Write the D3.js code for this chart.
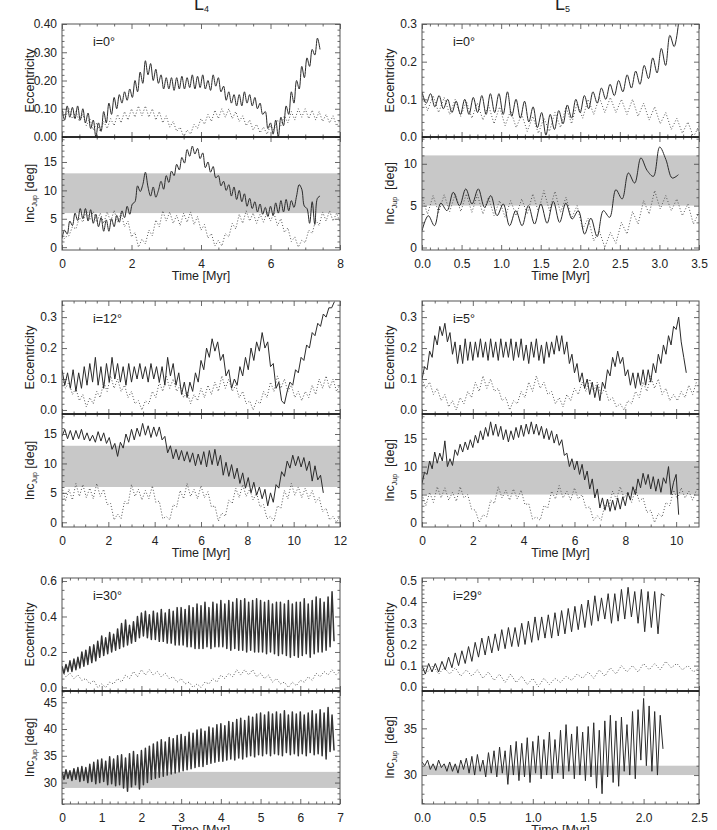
<!DOCTYPE html>
<html>
<head>
<meta charset="utf-8">
<script src="https://cdn.jsdelivr.net/npm/d3@7"></script>
<style>
body { margin: 0; background: #fff; }
svg text { font-family: "Liberation Sans", Arial, Helvetica, sans-serif; fill: #222; white-space: pre; }
</style>
</head>
<body>
<svg id="chart" width="717" height="830"></svg>
<script>
// ---- data (values at equal time steps over each span) ----

// L4, i=0
const l4i0EccSpan = [0, 7.425];
const l4i0Ecc = [0.10,0.06,0.11,0.07,0.105,0.065,0.11,0.06,0.10,0.05,
  0.085,0.03,0.06,0.0,0.05,0.02,0.09,0.05,0.12,0.08,
  0.14,0.10,0.15,0.12,0.16,0.13,0.17,0.14,0.20,0.16,
  0.23,0.19,0.27,0.22,0.26,0.20,0.24,0.19,0.22,0.17,
  0.21,0.17,0.21,0.165,0.21,0.17,0.215,0.17,0.21,0.175,
  0.22,0.17,0.215,0.175,0.22,0.17,0.20,0.165,0.22,0.18,
  0.21,0.16,0.18,0.13,0.16,0.12,0.15,0.11,0.15,0.11,
  0.16,0.12,0.15,0.11,0.14,0.10,0.12,0.08,0.09,0.03,
  0.05,0.01,0.06,0.0,0.07,0.04,0.11,0.08,0.16,0.12,
  0.20,0.17,0.25,0.21,0.28,0.25,0.31,0.29,0.35,0.31];
const l4i0EccJupSpan = [0, 8];
const l4i0EccJup = [0.10,0.07,0.10,0.065,0.09,0.055,0.08,0.04,0.065,0.025,
  0.05,0.02,0.055,0.03,0.065,0.04,0.08,0.05,0.09,0.06,
  0.10,0.07,0.11,0.075,0.11,0.07,0.10,0.06,0.09,0.05,
  0.075,0.035,0.055,0.02,0.035,0.0,0.025,0.01,0.045,0.03,
  0.065,0.045,0.08,0.055,0.095,0.065,0.10,0.07,0.10,0.065,
  0.09,0.055,0.075,0.04,0.06,0.025,0.045,0.015,0.035,0.01,
  0.04,0.025,0.06,0.04,0.075,0.05,0.09,0.06,0.10,0.07,
  0.10,0.065,0.095,0.06,0.09,0.055,0.08,0.05,0.075,0.04,
  0.06];
const l4i0IncSpan = [0, 7.425];
const l4i0Inc = [1.5,3.0,2.3,4.6,3.8,6.0,4.7,6.8,5.0,6.8,
  4.6,6.6,4.2,5.8,3.6,5.2,2.8,4.8,2.8,5.0,
  3.6,5.6,4.4,6.4,5.2,7.2,5.8,7.6,8.0,10.8,
  9.8,11.0,13.2,10.6,9.0,10.6,8.8,10.0,11.6,10.2,
  12.6,11.4,13.4,12.6,14.6,13.6,15.8,14.8,17.2,16.0,
  17.8,16.4,17.4,15.6,16.6,14.0,15.0,13.2,14.2,12.2,
  12.6,10.8,11.6,10.0,11.0,9.0,10.6,8.4,10.0,8.0,
  9.4,7.2,8.6,6.8,8.0,6.2,7.6,5.8,7.0,5.4,
  7.2,5.6,7.8,6.0,8.2,6.2,8.4,6.4,8.2,7.0,
  9.0,11.0,10.2,7.2,6.8,4.2,8.0,4.0,8.6,9.0];
const l4i0IncJupSpan = [0, 8];
const l4i0IncJup = [1.0,1.8,2.0,3.6,3.2,5.2,4.4,6.4,4.8,6.3,
  4.4,6.0,4.2,6.2,4.5,6.5,4.4,6.0,3.6,4.6,
  1.8,2.6,0.0,1.4,0.6,3.0,2.0,4.8,3.6,6.4,
  4.6,6.2,4.2,5.6,3.8,6.0,4.4,6.2,4.0,5.4,
  3.0,4.0,1.6,2.4,0.2,1.2,0.2,2.4,1.8,4.2,
  3.2,5.8,4.2,6.4,4.6,6.0,4.2,5.8,4.4,6.2,
  4.6,6.0,3.8,5.0,2.6,3.4,1.0,1.8,0.0,1.2,
  0.8,3.0,2.4,4.8,3.8,6.2,4.6,6.4,4.6,6.0,
  4.4];

// L5, i=0
const l5i0EccSpan = [0, 3.24];
const l5i0Ecc = [0.12,0.09,0.115,0.08,0.11,0.075,0.10,0.065,0.095,0.06,
  0.10,0.06,0.105,0.065,0.11,0.06,0.115,0.065,0.115,0.06,
  0.12,0.055,0.10,0.05,0.095,0.04,0.08,0.025,0.065,0.005,
  0.06,0.02,0.07,0.035,0.085,0.05,0.10,0.065,0.11,0.075,
  0.12,0.09,0.13,0.10,0.14,0.11,0.15,0.12,0.165,0.13,
  0.175,0.14,0.19,0.155,0.21,0.17,0.235,0.19,0.27,0.24,
  0.30];
const l5i0EccJupSpan = [0, 3.5];
const l5i0EccJup = [0.11,0.07,0.11,0.065,0.105,0.06,0.10,0.055,0.095,0.05,
  0.09,0.045,0.085,0.035,0.08,0.03,0.07,0.025,0.06,0.015,
  0.055,0.01,0.05,0.015,0.065,0.025,0.08,0.035,0.09,0.05,
  0.10,0.06,0.105,0.065,0.105,0.065,0.10,0.06,0.10,0.055,
  0.09,0.045,0.08,0.035,0.065,0.02,0.05,0.01,0.04,0.0,
  0.03];
const l5i0IncSpan = [0, 3.24];
const l5i0Inc = [2.0,3.8,2.6,5.3,4.4,6.6,5.0,7.0,5.2,7.0,
  4.8,6.2,3.8,5.2,2.6,4.4,2.6,5.0,2.8,5.2,
  2.9,5.5,3.0,5.3,3.4,4.4,1.6,3.5,1.3,4.4,
  3.6,6.9,5.8,8.9,7.7,10.7,9.2,8.5,12.0,10.5,
  8.3,8.7];
const l5i0IncJupSpan = [0, 3.5];
const l5i0IncJup = [6.0,4.0,6.2,4.2,6.3,4.3,6.4,4.3,6.4,4.2,
  6.3,4.0,6.0,3.8,5.6,3.6,5.6,3.8,5.8,4.0,
  6.4,4.3,6.8,4.4,6.7,4.2,6.0,3.5,5.0,2.2,
  3.5,0.8,2.0,0.0,1.8,0.5,3.0,1.6,4.3,2.8,
  5.6,4.0,6.8,4.6,6.2,4.4,5.8,3.8,5.2,2.8,
  4.2];

// L4, i=12
const l4i12EccSpan = [0, 11.76];
const l4i12Ecc = [0.13,0.08,0.12,0.07,0.13,0.06,0.12,0.07,0.14,0.08,
  0.15,0.09,0.17,0.08,0.14,0.07,0.15,0.09,0.17,0.10,
  0.15,0.09,0.14,0.08,0.15,0.09,0.14,0.10,0.15,0.10,
  0.14,0.09,0.15,0.10,0.14,0.09,0.14,0.08,0.17,0.11,
  0.15,0.08,0.12,0.05,0.09,0.04,0.09,0.06,0.12,0.09,
  0.16,0.13,0.20,0.17,0.23,0.19,0.22,0.16,0.18,0.11,
  0.13,0.07,0.10,0.08,0.14,0.11,0.17,0.13,0.20,0.16,
  0.22,0.19,0.25,0.20,0.22,0.14,0.15,0.07,0.09,0.03,
  0.02,0.06,0.09,0.08,0.13,0.12,0.17,0.16,0.21,0.20,
  0.25,0.24,0.28,0.27,0.31,0.30,0.33,0.33,0.35];
const l4i12EccJupSpan = [0, 12];
const l4i12EccJup = [0.10,0.07,0.09,0.05,0.07,0.03,0.05,0.01,0.04,0.02,
  0.06,0.04,0.09,0.06,0.11,0.07,0.10,0.06,0.08,0.04,
  0.06,0.02,0.03,0.0,0.03,0.02,0.06,0.04,0.09,0.06,
  0.11,0.07,0.10,0.06,0.08,0.04,0.06,0.02,0.05,0.03,
  0.07,0.04,0.08,0.05,0.09,0.06,0.11,0.07,0.10,0.06,
  0.08,0.04,0.06,0.02,0.03,0.0,0.03,0.02,0.06,0.04,
  0.09,0.06,0.11,0.07,0.10,0.06,0.08,0.04,0.06,0.03,
  0.06,0.04,0.08,0.05,0.10,0.07,0.11,0.07,0.10,0.06,
  0.08];
const l4i12IncSpan = [0, 11.28];
const l4i12Inc = [14.6,15.8,14.2,15.6,14.0,15.6,14.2,15.8,14.0,15.2,
  13.8,14.8,13.6,15.4,13.8,15.2,13.4,14.4,12.4,13.4,
  11.2,13.6,12.6,15.0,13.6,15.8,14.0,16.0,14.6,16.8,
  14.8,16.4,14.4,16.2,14.6,16.2,14.0,14.6,11.8,13.0,
  10.8,12.4,10.6,12.2,10.4,12.0,10.2,11.8,9.6,11.6,
  9.8,12.0,9.4,12.2,9.8,12.4,9.6,11.4,8.0,10.2,
  7.8,9.8,7.4,9.2,6.6,8.4,5.8,7.6,5.0,6.8,
  4.6,6.0,4.0,5.6,2.8,5.0,3.4,6.4,5.8,8.6,
  7.8,10.4,9.2,11.4,9.6,11.2,9.4,11.0,8.8,10.4,
  7.0,9.6,7.2,8.0,5.0];
const l4i12IncJupSpan = [0, 12];
const l4i12IncJup = [6.0,3.6,5.6,3.8,6.6,4.4,6.4,4.2,5.8,4.0,
  6.6,4.4,5.6,3.0,3.2,0.4,1.4,0.6,3.6,3.0,
  6.4,4.4,5.6,3.8,5.4,4.0,6.2,3.4,3.6,0.6,
  1.0,0.4,3.0,2.6,5.4,4.0,6.6,4.4,5.6,4.0,
  6.2,4.2,5.2,2.6,2.8,0.2,1.6,1.0,3.8,3.2,
  5.8,4.2,6.4,4.4,5.6,3.8,5.0,2.6,3.0,0.6,
  1.0,0.2,2.8,2.4,5.4,4.0,6.6,4.6,6.0,4.2,
  5.8,4.0,5.4,3.4,4.2,1.8,2.4,0.4,1.0,0.0,
  1.0];

// L5, i=5
const l5i5EccSpan = [0, 10.4];
const l5i5Ecc = [0.10,0.14,0.13,0.19,0.17,0.24,0.21,0.27,0.24,0.28,
  0.22,0.25,0.18,0.22,0.15,0.21,0.15,0.23,0.16,0.22,
  0.16,0.22,0.17,0.23,0.17,0.22,0.16,0.23,0.17,0.22,
  0.16,0.23,0.17,0.22,0.17,0.23,0.16,0.22,0.17,0.23,
  0.16,0.21,0.15,0.22,0.17,0.23,0.16,0.21,0.15,0.22,
  0.17,0.22,0.18,0.24,0.19,0.24,0.18,0.22,0.15,0.18,
  0.12,0.15,0.09,0.12,0.07,0.10,0.05,0.09,0.04,0.08,
  0.03,0.09,0.07,0.13,0.11,0.17,0.14,0.19,0.15,0.17,
  0.11,0.13,0.08,0.12,0.07,0.12,0.08,0.13,0.08,0.13,
  0.09,0.15,0.12,0.18,0.15,0.21,0.18,0.24,0.21,0.27,
  0.26,0.30,0.22,0.17,0.12];
const l5i5EccJupSpan = [0, 10.8];
const l5i5EccJup = [0.10,0.07,0.09,0.05,0.07,0.03,0.05,0.01,0.03,0.0,
  0.04,0.02,0.06,0.04,0.09,0.06,0.11,0.07,0.10,0.06,
  0.07,0.03,0.04,0.0,0.03,0.02,0.06,0.04,0.09,0.06,
  0.11,0.07,0.09,0.05,0.06,0.02,0.04,0.01,0.05,0.03,
  0.07,0.05,0.09,0.06,0.10,0.06,0.09,0.05,0.07,0.03,
  0.04,0.01,0.02,0.0,0.03,0.02,0.06,0.04,0.09,0.06,
  0.11,0.07,0.10,0.05,0.07,0.03,0.05,0.03,0.06,0.04,
  0.08,0.05,0.09];
const l5i5IncSpan = [0, 10.1];
const l5i5Inc = [7.0,9.0,8.6,11.0,9.6,12.6,10.6,12.4,11.0,14.6,
  10.0,11.4,10.2,13.0,12.0,14.0,12.6,14.4,13.0,14.8,
  13.4,15.6,14.2,16.4,14.8,17.0,15.4,18.0,15.6,17.6,
  15.4,17.2,14.8,16.6,14.4,16.4,14.8,17.0,15.2,17.4,
  15.4,17.6,15.8,18.0,15.8,17.6,15.6,17.2,15.0,16.8,
  14.8,16.4,14.2,15.8,13.8,14.8,12.0,12.4,10.0,11.4,
  9.4,11.0,8.6,10.4,7.6,9.2,6.0,7.8,4.4,6.0,
  2.6,4.4,2.2,4.2,2.0,4.0,2.2,4.4,2.4,4.6,
  3.0,5.4,4.0,6.4,5.0,7.8,6.2,8.8,6.8,8.6,
  6.0,8.2,5.6,7.8,5.4,8.0,7.0,10.0,5.0,7.2,
  8.6,1.4];
const l5i5IncJupSpan = [0, 10.8];
const l5i5IncJup = [5.0,3.0,5.4,3.6,6.4,4.4,6.2,4.0,5.4,3.8,
  6.4,4.4,5.0,2.4,2.2,0.0,1.4,1.0,4.0,3.4,
  6.4,4.4,5.8,4.0,6.0,4.2,5.8,3.2,3.4,0.6,
  1.0,0.4,3.0,2.6,5.6,4.2,6.6,4.4,5.6,4.0,
  6.2,4.2,5.0,2.6,2.8,0.4,1.2,0.4,3.2,2.8,
  5.6,4.2,6.4,4.4,5.4,3.6,6.0,3.8,4.4,1.8,
  2.2,0.0,1.6,1.0,3.6,3.0,5.8,4.2,6.2,4.4,
  5.6,4.0,5.8];

// L4, i=30
const l4i30EccSpan = [0, 6.85];
const l4i30Ecc = [0.12,0.08,0.13,0.09,0.15,0.09,0.16,0.10,0.17,0.11,
  0.20,0.12,0.21,0.13,0.23,0.14,0.24,0.15,0.26,0.17,
  0.29,0.18,0.28,0.19,0.31,0.20,0.30,0.21,0.33,0.22,
  0.36,0.23,0.38,0.24,0.35,0.25,0.37,0.26,0.40,0.28,
  0.42,0.29,0.43,0.28,0.41,0.27,0.43,0.27,0.42,0.26,
  0.44,0.26,0.42,0.25,0.44,0.25,0.43,0.24,0.45,0.24,
  0.45,0.24,0.44,0.23,0.46,0.23,0.45,0.22,0.47,0.22,
  0.46,0.22,0.48,0.23,0.45,0.22,0.48,0.23,0.47,0.23,
  0.49,0.23,0.47,0.22,0.49,0.21,0.48,0.22,0.50,0.21,
  0.49,0.21,0.50,0.20,0.48,0.21,0.49,0.20,0.50,0.20,
  0.49,0.20,0.48,0.19,0.49,0.20,0.47,0.19,0.48,0.18,
  0.48,0.19,0.47,0.18,0.49,0.17,0.47,0.18,0.48,0.17,
  0.48,0.18,0.50,0.19,0.47,0.17,0.49,0.19,0.51,0.20,
  0.50,0.20,0.48,0.21,0.51,0.23,0.54,0.26];
const l4i30EccJupSpan = [0, 7];
const l4i30EccJup = [0.09,0.06,0.08,0.05,0.07,0.04,0.05,0.02,0.04,0.0,
  0.02,0.0,0.03,0.02,0.05,0.03,0.07,0.05,0.09,0.06,
  0.10,0.07,0.10,0.07,0.09,0.06,0.08,0.05,0.06,0.03,
  0.05,0.02,0.03,0.0,0.02,0.0,0.03,0.02,0.05,0.03,
  0.07,0.05,0.08,0.06,0.10,0.07,0.10,0.07,0.10,0.06,
  0.08,0.05,0.07,0.03,0.05,0.02,0.03,0.0,0.03,0.01,
  0.04,0.03,0.06,0.04,0.08,0.06,0.09,0.07,0.10,0.07,
  0.09];
const l4i30IncSpan = [0, 6.85];
const l4i30Inc = [32.0,30.6,32.4,30.8,32.2,30.4,32.6,30.6,32.8,30.2,
  33.0,30.4,32.8,30.0,33.4,30.2,33.8,29.8,34.2,30.0,
  34.4,30.2,34.0,29.6,34.8,29.8,34.4,29.4,35.0,29.6,
  35.2,29.0,34.6,28.4,35.4,29.2,35.8,29.6,35.2,28.8,
  36.0,29.6,36.4,30.0,36.8,30.6,37.2,30.8,37.6,31.0,
  38.0,31.2,37.6,31.4,38.4,31.6,38.2,31.8,38.8,32.0,
  39.0,32.2,38.6,32.4,39.4,32.6,39.2,32.8,39.8,33.0,
  40.0,33.0,39.6,33.4,40.4,33.6,40.2,33.8,40.8,34.0,
  41.0,34.0,40.6,34.2,41.4,34.4,41.2,34.2,41.8,34.6,
  42.0,34.4,41.6,34.8,42.4,35.0,42.2,34.8,42.8,35.2,
  43.0,35.0,42.6,35.4,43.2,35.0,42.8,35.4,43.2,35.2,
  42.8,35.0,43.4,35.6,42.6,35.2,43.2,35.4,42.8,35.0,
  43.2,35.4,42.6,35.0,43.0,35.6,43.4,35.2,42.8,35.4,
  43.6,35.0,43.0,34.4,44.0,35.8,42.6,36.0];

// L5, i=29
const l5i29EccSpan = [0, 2.19];
const l5i29Ecc = [0.10,0.06,0.11,0.07,0.11,0.07,0.12,0.08,0.14,0.09,
  0.16,0.10,0.17,0.11,0.19,0.12,0.21,0.14,0.23,0.15,
  0.24,0.16,0.25,0.17,0.27,0.18,0.28,0.19,0.28,0.19,
  0.30,0.20,0.31,0.21,0.33,0.22,0.33,0.23,0.34,0.23,
  0.35,0.24,0.36,0.25,0.37,0.26,0.38,0.27,0.39,0.28,
  0.41,0.29,0.43,0.31,0.42,0.32,0.44,0.30,0.44,0.31,
  0.46,0.32,0.47,0.33,0.45,0.30,0.46,0.26,0.45,0.28,
  0.45,0.25,0.44,0.43];
const l5i29EccJupSpan = [0, 2.5];
const l5i29EccJup = [0.10,0.07,0.10,0.06,0.09,0.06,0.09,0.05,0.08,0.05,
  0.08,0.04,0.07,0.03,0.06,0.02,0.06,0.02,0.05,0.01,
  0.04,0.0,0.04,0.01,0.04,0.02,0.05,0.03,0.06,0.04,
  0.07,0.04,0.08,0.05,0.09,0.06,0.10,0.07,0.10,0.07,
  0.11,0.08,0.11,0.08,0.12,0.09,0.11,0.08,0.10,0.07,
  0.09];
const l5i29IncSpan = [0, 2.175];
const l5i29Inc = [31.4,31.0,31.6,30.6,31.2,30.5,31.6,30.8,31.2,30.4,
  31.4,30.4,31.2,30.2,31.6,30.6,31.8,30.2,32.0,30.0,
  32.2,30.4,31.6,29.8,32.4,30.2,32.6,29.8,33.0,30.2,
  32.6,29.0,33.2,30.0,33.6,29.4,33.4,29.8,34.0,29.2,
  33.6,30.2,34.2,29.6,33.8,30.0,34.6,29.6,33.8,30.2,
  34.8,29.6,35.4,30.4,34.4,29.6,35.2,30.0,34.6,29.4,
  35.2,29.8,35.6,28.6,34.8,28.0,35.8,29.8,36.4,29.2,
  35.8,28.8,36.2,30.4,35.4,30.0,36.8,29.6,37.0,31.6,
  38.2,31.0,37.4,30.4,36.8,30.0,36.4,32.8];

// shaded inclination ranges
const bandL4 = [6, 13];
const bandL5 = [5, 11];
const bandL4i30 = [29, 32];
const bandL5i29 = [30, 31];

// tick values
const timeTicksL4i0 = [0, 2, 4, 6, 8];
const timeTicksL5i0 = [0, 0.5, 1, 1.5, 2, 2.5, 3, 3.5];
const timeTicksL4i12 = [0, 2, 4, 6, 8, 10, 12];
const timeTicksL5i5 = [0, 2, 4, 6, 8, 10];
const timeTicksL4i30 = [0, 1, 2, 3, 4, 5, 6, 7];
const timeTicksL5i29 = [0, 0.5, 1, 1.5, 2, 2.5];
const eccTicksL4i0 = [0, 0.1, 0.2, 0.3, 0.4];
const eccTicks03 = [0, 0.1, 0.2, 0.3];
const eccTicksL4i30 = [0, 0.2, 0.4, 0.6];
const eccTicksL5i29 = [0, 0.1, 0.2, 0.3, 0.4, 0.5];
const incTicksL5i0 = [0, 5, 10];
const incTicks15 = [0, 5, 10, 15];
const incTicksL4i30 = [30, 35, 40, 45];
const incTicksL5i29 = [30, 35];

// ---- layout ----
const width = 717;
const height = 830;
const colX = [[62, 340], [422, 699]];
const rowTop = [24, 301, 578];
const subH = 113;

const svg = d3.select("#chart");

const rows = [
  { col: 0, row: 0, label: "i=0°", xDomain: [0, 8], xTicks: timeTicksL4i0, xMinor: 4, xFmt: "d", smooth: true,
    ecc: { yDomain: [0, 0.4], ticks: eccTicksL4i0, minor: 5, fmt: ".2f", span: l4i0EccSpan, vals: l4i0Ecc, jupSpan: l4i0EccJupSpan, jup: l4i0EccJup },
    inc: { yDomain: [-0.5, 19.4], ticks: incTicks15, minor: 5, band: bandL4, span: l4i0IncSpan, vals: l4i0Inc, jupSpan: l4i0IncJupSpan, jup: l4i0IncJup } },
  { col: 1, row: 0, label: "i=0°", xDomain: [0, 3.5], xTicks: timeTicksL5i0, xMinor: 5, xFmt: ".1f", smooth: true, wide: true,
    ecc: { yDomain: [0, 0.3], ticks: eccTicks03, minor: 5, fmt: ".1f", span: l5i0EccSpan, vals: l5i0Ecc, jupSpan: l5i0EccJupSpan, jup: l5i0EccJup },
    inc: { yDomain: [-0.3, 13.2], ticks: incTicksL5i0, minor: 5, band: bandL5, span: l5i0IncSpan, vals: l5i0Inc, jupSpan: l5i0IncJupSpan, jup: l5i0IncJup } },
  { col: 0, row: 1, label: "i=12°", xDomain: [0, 12], xTicks: timeTicksL4i12, xMinor: 4, xFmt: "d",
    ecc: { yDomain: [-0.013, 0.352], ticks: eccTicks03, minor: 5, fmt: ".1f", span: l4i12EccSpan, vals: l4i12Ecc, jupSpan: l4i12EccJupSpan, jup: l4i12EccJup },
    inc: { yDomain: [-0.8, 18.4], ticks: incTicks15, minor: 5, band: bandL4, span: l4i12IncSpan, vals: l4i12Inc, jupSpan: l4i12IncJupSpan, jup: l4i12IncJup } },
  { col: 1, row: 1, label: "i=5°", xDomain: [0, 10.9], xTicks: timeTicksL5i5, xMinor: 4, xFmt: "d", wide: true,
    ecc: { yDomain: [-0.013, 0.352], ticks: eccTicks03, minor: 5, fmt: ".1f", span: l5i5EccSpan, vals: l5i5Ecc, jupSpan: l5i5EccJupSpan, jup: l5i5EccJup },
    inc: { yDomain: [-0.8, 19.4], ticks: incTicks15, minor: 5, band: bandL5, span: l5i5IncSpan, vals: l5i5Inc, jupSpan: l5i5IncJupSpan, jup: l5i5IncJup } },
  { col: 0, row: 2, label: "i=30°", xDomain: [0, 7], xTicks: timeTicksL4i30, xMinor: 5, xFmt: "d", dense: true,
    ecc: { yDomain: [-0.02, 0.617], ticks: eccTicksL4i30, minor: 4, fmt: ".1f", span: l4i30EccSpan, vals: l4i30Ecc, jupSpan: l4i30EccJupSpan, jup: l4i30EccJup },
    inc: { yDomain: [26, 47.1], ticks: incTicksL4i30, minor: 5, band: bandL4i30, span: l4i30IncSpan, vals: l4i30Inc } },
  { col: 1, row: 2, label: "i=29°", xDomain: [0, 2.5], xTicks: timeTicksL5i29, xMinor: 5, xFmt: ".1f", wide: true,
    ecc: { yDomain: [-0.02, 0.514], ticks: eccTicksL5i29, minor: 5, fmt: ".1f", span: l5i29EccSpan, vals: l5i29Ecc, jupSpan: l5i29EccJupSpan, jup: l5i29EccJup },
    inc: { yDomain: [26.9, 39], ticks: incTicksL5i29, minor: 5, band: bandL5i29, span: l5i29IncSpan, vals: l5i29Inc } }
];

function minorTicks(domain, major, n) {
  const step = (major[1] - major[0]) / n;
  const lo = Math.min(domain[0], domain[1]), hi = Math.max(domain[0], domain[1]);
  const out = [];
  for (let k = Math.ceil((lo - major[0]) / step - 1e-6); major[0] + k * step <= hi + 1e-9; k++) {
    if (k % n !== 0) out.push(major[0] + k * step);
  }
  return out;
}

function seriesPath(x, y, span, vals, curve) {
  const step = (span[1] - span[0]) / (vals.length - 1);
  return d3.line()
    .x((d, i) => x(span[0] + i * step))
    .y((d) => y(d))
    .curve(curve)(vals);
}

function styleAxis(sel) {
  sel.select(".domain").remove();
  sel.selectAll(".tick line").attr("stroke", "#444").attr("stroke-width", 0.8);
  sel.selectAll(".tick text").attr("font-size", 12).attr("fill", "#222")
    .attr("font-family", '"Liberation Sans", Arial, sans-serif');
}

let clipId = 0;
function drawSub(r, kind) {
  const cfg = r[kind];
  const [x0, x1] = colX[r.col];
  const top = rowTop[r.row] + (kind === "inc" ? subH : 0);
  const bottom = top + subH;
  const x = d3.scaleLinear().domain(r.xDomain).range([x0, x1]);
  const y = d3.scaleLinear().domain(cfg.yDomain).range([bottom, top]);
  const curve = r.smooth ? d3.curveCatmullRom.alpha(0.5) : d3.curveLinear;

  const id = "clip" + clipId++;
  svg.append("clipPath").attr("id", id)
    .append("rect").attr("x", x0).attr("y", top).attr("width", x1 - x0).attr("height", bottom - top);
  const plot = svg.append("g").attr("clip-path", `url(#${id})`);

  if (cfg.band) {
    plot.append("rect")
      .attr("x", x0).attr("width", x1 - x0)
      .attr("y", y(cfg.band[1])).attr("height", y(cfg.band[0]) - y(cfg.band[1]))
      .attr("fill", "#c8c8c8");
  }
  if (cfg.jup) {
    plot.append("path")
      .attr("d", seriesPath(x, y, cfg.jupSpan, cfg.jup, d3.curveLinear))
      .attr("fill", "none").attr("stroke", "#555").attr("stroke-width", 1)
      .attr("stroke-dasharray", "1,2");
  }
  plot.append("path")
    .attr("d", seriesPath(x, y, cfg.span, cfg.vals, curve))
    .attr("fill", "none")
    .attr("stroke", r.dense ? "#333" : "#2a2a2a")
    .attr("stroke-width", r.dense ? 1.5 : 1)
    .attr("stroke-linejoin", "round");

  // axes with inward IDL-style ticks
  const yMin = minorTicks(cfg.yDomain, cfg.ticks, cfg.minor);
  const xMin = minorTicks(r.xDomain, r.xTicks, r.xMinor);
  svg.append("g").attr("transform", `translate(${x0},0)`)
    .call(d3.axisLeft(y).tickValues(cfg.ticks).tickFormat(d3.format(cfg.fmt || "d")).tickSize(-5).tickPadding(5))
    .call(styleAxis);
  svg.append("g").attr("transform", `translate(${x0},0)`)
    .call(d3.axisLeft(y).tickValues(yMin).tickFormat("").tickSize(-2.5)).call(styleAxis);
  svg.append("g").attr("transform", `translate(${x1},0)`)
    .call(d3.axisRight(y).tickValues(cfg.ticks).tickFormat("").tickSize(-5)).call(styleAxis);
  svg.append("g").attr("transform", `translate(${x1},0)`)
    .call(d3.axisRight(y).tickValues(yMin).tickFormat("").tickSize(-2.5)).call(styleAxis);
  svg.append("g").attr("transform", `translate(0,${top})`)
    .call(d3.axisTop(x).tickValues(r.xTicks).tickFormat("").tickSize(-5)).call(styleAxis);
  svg.append("g").attr("transform", `translate(0,${top})`)
    .call(d3.axisTop(x).tickValues(xMin).tickFormat("").tickSize(-2.5)).call(styleAxis);
  svg.append("g").attr("transform", `translate(0,${bottom})`)
    .call(d3.axisBottom(x).tickValues(r.xTicks)
      .tickFormat(kind === "inc" ? d3.format(r.xFmt) : "").tickSize(-5).tickPadding(9))
    .call(styleAxis);
  svg.append("g").attr("transform", `translate(0,${bottom})`)
    .call(d3.axisBottom(x).tickValues(xMin).tickFormat("").tickSize(-2.5)).call(styleAxis);

  svg.append("rect")
    .attr("x", x0).attr("y", top).attr("width", x1 - x0).attr("height", bottom - top)
    .attr("fill", "none").attr("stroke", "#555").attr("stroke-width", 1);

  // y title
  const yt = svg.append("text")
    .attr("transform", `translate(${x0 - 28},${(top + bottom) / 2}) rotate(-90)`)
    .attr("text-anchor", "middle").attr("font-size", 12.5);
  if (kind === "ecc") {
    yt.text("Eccentricity");
  } else {
    yt.append("tspan").text("Inc");
    yt.append("tspan").attr("font-size", 7).attr("dy", 3).text("Jup");
    yt.append("tspan").attr("dy", -3).text(r.wide ? "  [deg]" : " [deg]");
  }

  if (kind === "ecc") {
    svg.append("text").attr("x", x0 + 31).attr("y", top + 22)
      .attr("font-size", 12.5).text(r.label);
  } else {
    svg.append("text").attr("x", (x0 + x1) / 2).attr("y", bottom + 30)
      .attr("text-anchor", "middle").attr("font-size", 12.5).text("Time [Myr]");
  }
}

rows.forEach((r) => {
  drawSub(r, "ecc");
  drawSub(r, "inc");
  // shared edge between the two sub-panels
  const [x0, x1] = colX[r.col];
  svg.append("line")
    .attr("x1", x0).attr("x2", x1)
    .attr("y1", rowTop[r.row] + subH).attr("y2", rowTop[r.row] + subH)
    .attr("stroke", "#111").attr("stroke-width", 1.3);
});

// column headings (cut by the top edge as in the figure)
[["4", 194], ["5", 555]].forEach(([sub, xPos]) => {
  const t = svg.append("text").attr("x", xPos).attr("y", 10).attr("font-size", 18);
  t.append("tspan").text("L");
  t.append("tspan").attr("font-size", 9).attr("dy", 2).text(sub);
});
</script>
</body>
</html>
